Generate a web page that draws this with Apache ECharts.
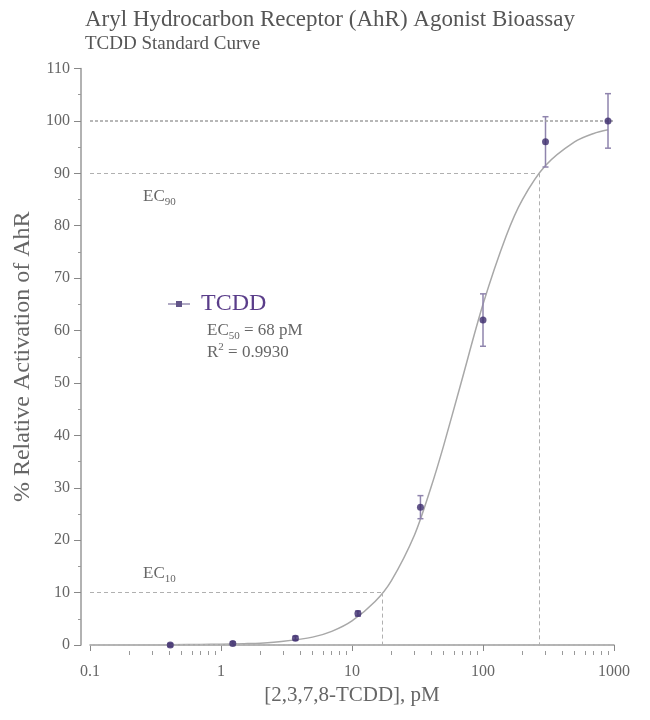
<!DOCTYPE html>
<html><head><meta charset="utf-8">
<script src="https://cdn.jsdelivr.net/npm/echarts@6/dist/echarts.min.js"></script>
<style>html,body{margin:0;padding:0;background:#fff}#c{width:650px;height:720px}</style>
</head><body><div id="c"></div>
<script>
const concentrations = [0.41, 1.23, 3.7, 11.1, 33.3, 100, 300, 900];
const activation = [0.0, 0.3, 1.3, 6.0, 26.3, 62.0, 96.0, 100.0];
const errors = [0.3, 0.3, 0.4, 0.5, 2.2, 5.0, 4.8, 5.2];
const curveX = [0.41, 0.7, 1, 1.5, 2, 3, 5, 7, 10, 15, 20, 30, 40, 50, 68, 100, 150, 200, 300, 500, 700, 900];
const curveY = [0.05, 0.1, 0.15, 0.25, 0.35, 0.7, 1.5, 2.6, 4.6, 8.3, 12.3, 21, 30, 38, 50, 65, 78, 85, 91.5, 96, 97.6, 98.3];
const majorTicks = [0.1, 1, 10, 100, 1000];
const xTickLabels = ['0.1', '1', '10', '100', '1000'];
const minorTicks = [0.2, 0.3, 0.4, 0.5, 0.6, 0.7, 0.8, 0.9, 2, 3, 4, 5, 6, 7, 8, 9, 20, 30, 40, 50, 60, 70, 80, 90, 200, 300, 400, 500, 600, 700, 800, 900];
const ec10 = 17, ec90 = 271;
const refLevels = { top: 100, bottom: 0, high: 90, low: 10 };

const serif = 'Liberation Serif';
const gray = '#666';

const chart = echarts.init(document.getElementById('c'), null, { renderer: 'canvas' });

function labelFor(v) {
  const i = majorTicks.findIndex(t => Math.abs(Math.log10(t) - Math.log10(v)) < 1e-6);
  return i >= 0 ? xTickLabels[i] : '';
}

const subRich = {
  n: { fontFamily: serif, fontSize: 17, fontWeight: 'normal', color: '#666', lineHeight: 22, verticalAlign: 'middle' },
  s: { fontFamily: serif, fontSize: 11, fontWeight: 'normal', color: '#666', lineHeight: 12, verticalAlign: 'bottom' },
  u: { fontFamily: serif, fontSize: 11, fontWeight: 'normal', color: '#666', lineHeight: 12, verticalAlign: 'top' }
};

chart.setOption({
  animation: false,
  backgroundColor: '#fff',
  textStyle: { fontFamily: serif },
  title: [
    { text: 'Aryl Hydrocarbon Receptor (AhR) Agonist Bioassay', subtext: 'TCDD Standard Curve', left: 80, top: 3, itemGap: 4,
      textStyle: { fontFamily: serif, fontSize: 23, fontWeight: 'normal', color: '#555' },
      subtextStyle: { fontFamily: serif, fontSize: 19, color: '#555' } },
    { text: '{n|EC}{s|50}{n| = 68 pM}', left: 202, top: 315, textStyle: { fontWeight: 'normal', rich: subRich } },
    { text: '{n|R}{u|2}{n| = 0.9930}', left: 202, top: 337, textStyle: { fontWeight: 'normal', rich: subRich } },
    { text: '{n|EC}{s|90}', left: 138, top: 181, textStyle: { fontWeight: 'normal', rich: subRich } },
    { text: '{n|EC}{s|10}', left: 138, top: 558, textStyle: { fontWeight: 'normal', rich: subRich } }
  ],
  legend: {
    data: ['TCDD'], left: 163, top: 287, itemWidth: 22, itemHeight: 6,
    icon: 'path://M0,2.5H8V0H14V2.5H22V3.5H14V6H8V3.5H0Z',
    textStyle: { fontFamily: serif, fontSize: 24, color: '#5a3d8a', padding: [0, 0, 0, 6] }
  },
  grid: { left: 90, right: 36, top: 68.5, bottom: 75 },
  xAxis: [
    { type: 'log', logBase: 10, min: 0.1, max: 1000, offset: 6, position: 'bottom',
      axisLine: { lineStyle: { color: '#999', width: 1.5 } },
      axisTick: { customValues: majorTicks, length: 6, lineStyle: { color: '#888' } },
      axisLabel: { customValues: majorTicks, formatter: labelFor, fontFamily: serif, fontSize: 16, color: gray, margin: 13 },
      splitLine: { show: false },
      name: '[2,3,7,8-TCDD], pM', nameLocation: 'middle', nameGap: 32,
      nameTextStyle: { fontFamily: serif, fontSize: 21, color: gray } },
    { type: 'log', logBase: 10, min: 0.1, max: 1000, offset: 6, position: 'bottom',
      axisLine: { show: false },
      axisTick: { customValues: minorTicks, length: 4, lineStyle: { color: '#999' } },
      axisLabel: { show: false }, splitLine: { show: false } }
  ],
  yAxis: {
    type: 'value', min: 0, max: 110, interval: 10, offset: 9,
    axisLine: { show: true, lineStyle: { color: '#999', width: 1.5 } },
    axisTick: { show: true, length: 7, lineStyle: { color: '#888' } },
    minorTick: { show: true, splitNumber: 2, length: 3, lineStyle: { color: '#999' } },
    axisLabel: { fontFamily: serif, fontSize: 16, color: gray, margin: 11 },
    splitLine: { show: false },
    name: '% Relative Activation of AhR', nameLocation: 'middle', nameGap: 45,
    nameTextStyle: { fontFamily: serif, fontSize: 24, color: gray }
  },
  series: [
    { name: 'refs', type: 'line', data: [], silent: true,
      markLine: { silent: true, symbol: 'none', label: { show: false },
        lineStyle: { type: [4, 3], color: '#b0b0b0', width: 1 },
        data: [
          [{ coord: [majorTicks[0], refLevels.top], lineStyle: { color: '#a0a0a0', width: 1.5, type: [3, 2] } }, { coord: [majorTicks[4], refLevels.top] }],
          [{ coord: [majorTicks[0], refLevels.bottom], lineStyle: { color: '#b8b8b8', width: 1.5, type: [3, 2] } }, { coord: [majorTicks[4], refLevels.bottom] }],
          [{ coord: [majorTicks[0], refLevels.high] }, { coord: [ec90, refLevels.high] }],
          [{ coord: [majorTicks[0], refLevels.low] }, { coord: [ec10, refLevels.low] }],
          [{ coord: [ec90, refLevels.high] }, { coord: [ec90, refLevels.bottom] }],
          [{ coord: [ec10, refLevels.low] }, { coord: [ec10, refLevels.bottom] }]
        ] } },
    { name: 'fit', type: 'line', smooth: 0.3, symbol: 'none', z: 2,
      lineStyle: { color: '#a8a8a8', width: 1.5 },
      data: curveX.map((x, i) => [x, curveY[i]]) },
    { name: 'errors', type: 'custom', z: 3,
      renderItem: (params, api) => {
        const x = api.value(0);
        const lo = api.coord([x, api.value(1)]);
        const hi = api.coord([x, api.value(2)]);
        const st = { stroke: '#8f84ad', lineWidth: 1.5 };
        return { type: 'group', children: [
          { type: 'line', shape: { x1: lo[0], y1: lo[1], x2: hi[0], y2: hi[1] }, style: st },
          { type: 'line', shape: { x1: lo[0] - 3, y1: lo[1], x2: lo[0] + 3, y2: lo[1] }, style: st },
          { type: 'line', shape: { x1: hi[0] - 3, y1: hi[1], x2: hi[0] + 3, y2: hi[1] }, style: st }
        ] };
      },
      data: concentrations.map((c, i) => [c, activation[i] - errors[i], activation[i] + errors[i]]) },
    { name: 'TCDD', type: 'scatter', symbol: 'circle', symbolSize: 7, z: 5,
      itemStyle: { color: '#3b2a6b' },
      data: concentrations.map((c, i) => [c, activation[i]]) }
  ]
});
</script>
</body></html>
